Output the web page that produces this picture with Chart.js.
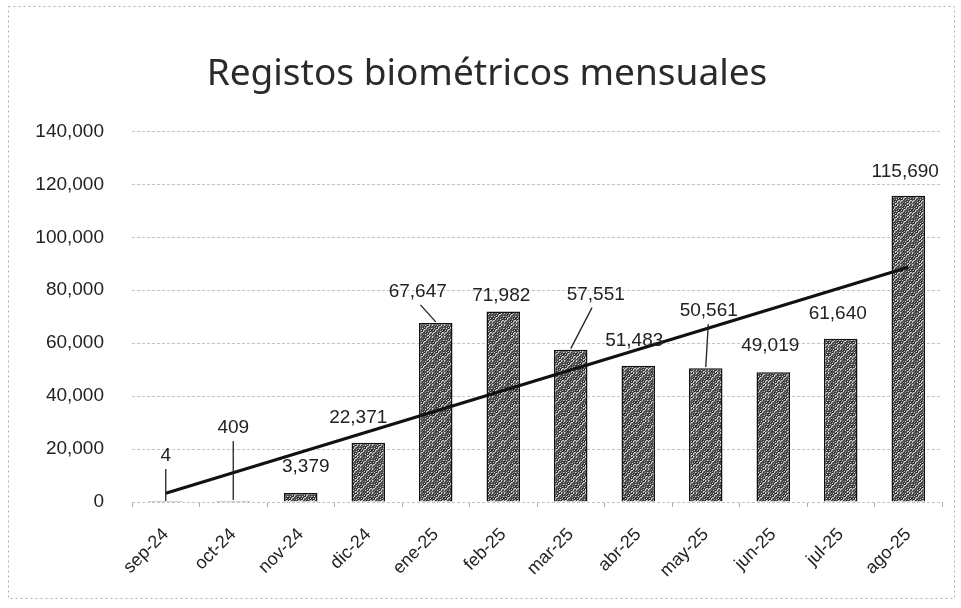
<!DOCTYPE html>
<html>
<head>
<meta charset="utf-8">
<script src="https://cdn.jsdelivr.net/npm/chart.js@4.4.1/dist/chart.umd.min.js"></script>
<style>
  html,body{margin:0;padding:0;background:#fff;}
  #wrap{width:961px;height:608px;position:relative;}
</style>
</head>
<body>
<div id="wrap"><canvas id="chart" width="961" height="608"></canvas></div>
<script>
const months = ['sep-24','oct-24','nov-24','dic-24','ene-25','feb-25','mar-25','abr-25','may-25','jun-25','jul-25','ago-25'];
const registros = [4, 409, 3379, 22371, 67647, 71982, 57551, 51483, 50561, 49019, 61640, 115690];
// trend line: start and end only
const trend = [3300, null, null, null, null, null, null, null, null, null, null, 88700];
const yTicks = [0, 20000, 40000, 60000, 80000, 100000, 120000, 140000];

// label placement relative to the bar top: [dx, dy, leader]
const labelPos = [
  [0,-46,true],[0,-73,true],[5,-26,false],[-10,-25,false],[-18,-31,true],[-2,-16,false],
  [25,-55,true],[-4,-25,false],[3,-57,true],[-3,-26,false],[-3,-25,false],[-3,-24,false]
];

const fmt = v => Number(v).toLocaleString('en-US');

function barPattern(){
  const c = document.createElement('canvas'); c.width = 12; c.height = 12;
  const g = c.getContext('2d');
  g.fillStyle = '#4a4a4a'; g.fillRect(0,0,12,12);
  for(let i=0;i<12;i++) for(let j=0;j<12;j++){
    const h = (i*7 + j*13 + i*j*3) % 9;
    if(h===0 || h===4) { g.fillStyle = '#cfcfcf'; g.fillRect(i,j,1,1); }
    else if(h===7) { g.fillStyle = '#8a8a8a'; g.fillRect(i,j,1,1); }
    else if(h===2) { g.fillStyle = '#1e1e1e'; g.fillRect(i,j,1,1); }
  }
  return g.createPattern(c,'repeat');
}

const framePlugin = {
  id:'frame',
  beforeDraw(chart){
    const ctx = chart.ctx;
    ctx.save();
    ctx.strokeStyle = '#b0b0b0'; ctx.lineWidth = 1; ctx.setLineDash([2,3]);
    ctx.strokeRect(8.5,6.5,946,592);
    ctx.restore();
  }
};

const labelPlugin = {
  id:'barLabels',
  afterDatasetsDraw(chart){
    const ctx = chart.ctx;
    const meta = chart.getDatasetMeta(1);
    ctx.save();
    ctx.font = '19px "Liberation Sans", Arial, sans-serif';
    ctx.fillStyle = '#222';
    ctx.textAlign = 'center'; ctx.textBaseline = 'middle';
    meta.data.forEach((bar, i) => {
      const [dx, dy, leader] = labelPos[i];
      const x = bar.x + dx, y = bar.y + dy;
      ctx.fillText(fmt(registros[i]), x, y);
      if(leader){
        ctx.strokeStyle = '#222'; ctx.lineWidth = 1.3;
        ctx.beginPath();
        ctx.moveTo(x + (bar.x - x)*0.15, y + 13);
        ctx.lineTo(bar.x, bar.y - 1);
        ctx.stroke();
      }
    });
    ctx.restore();
  }
};

new Chart(document.getElementById('chart'), {
  data:{
    labels: months,
    datasets:[
      { type:'line', label:'Tendencia', data: trend, spanGaps:true, borderColor:'#111', borderWidth:3.2,
        pointRadius:0, fill:false, order:0 },
      { type:'bar', label:'Registros', data: registros, backgroundColor: barPattern(), borderColor:'#111',
        borderWidth:1.5, barPercentage:0.62, categoryPercentage:0.8, order:1 }
    ]
  },
  options:{
    responsive:false, animation:false,
    layout:{ padding:{ left:32, right:19, top:0, bottom:0 } },
    plugins:{
      legend:{ display:false }, tooltip:{ enabled:false },
      title:{ display:true, text:'Registos biométricos mensuales', color:'#2a2a2a',
        font:{ family:'"Noto Sans", sans-serif', size:37, weight:'normal' }, padding:{ top:52, bottom:35 } }
    },
    scales:{
      x:{
        grid:{ display:true, drawOnChartArea:false, drawTicks:true, tickLength:5, color:'#aaa', offset:true },
        border:{ display:false },
        ticks:{ color:'#222', maxRotation:45, minRotation:45, padding:17,
          font:{ family:'"Liberation Sans", Arial, sans-serif', size:18 } },
        afterFit(s){ s.height = 106; }
      },
      y:{
        min:0, max:140000,
        afterBuildTicks(s){ s.ticks = yTicks.map(v => ({ value:v })); },
        grid:{ color:'#c4c4c4', lineWidth:1, drawTicks:false }, border:{ display:false, dash:[3,2] },
        ticks:{ color:'#222', padding:28, callback: v => fmt(v),
          font:{ family:'"Liberation Sans", Arial, sans-serif', size:19 } },
        afterFit(s){ s.width = 100; }
      }
    }
  },
  plugins:[framePlugin, labelPlugin]
});
</script>
</body>
</html>
